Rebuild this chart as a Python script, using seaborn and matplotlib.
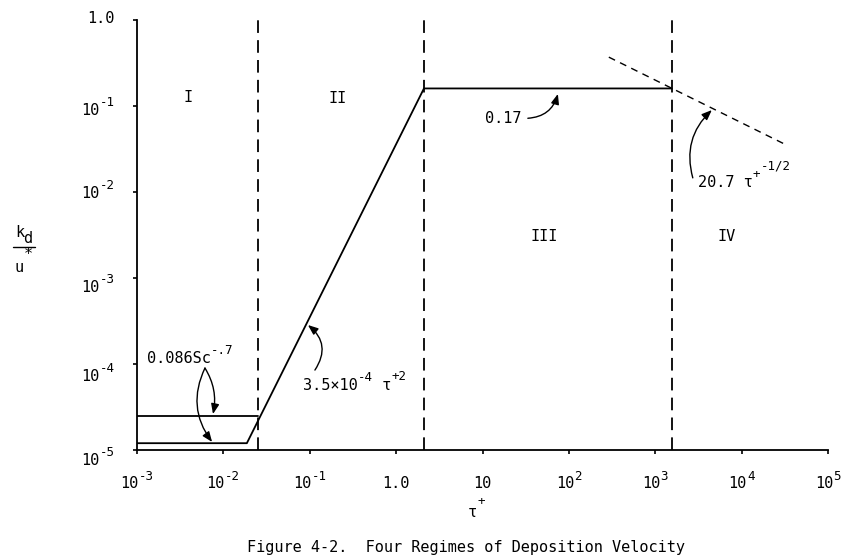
import matplotlib
matplotlib.use("Agg")
import matplotlib.pyplot as plt
import seaborn as sns
from matplotlib.lines import Line2D
from matplotlib.ticker import NullLocator

# ------------------------------------------------------------------
# values (tau+ on x, k_d/u* on y, both log)
# ------------------------------------------------------------------
curve_tau = [1e-3, 0.0187, 2.1, 1550.0]
curve_kd = [1.2e-5, 1.2e-5, 0.16, 0.16]

upper_tau = [1e-3, 0.025]
upper_kd = [2.5e-5, 2.5e-5]

regime_bounds = [0.025, 2.1, 1550.0]

slope_tau = [290.0, 33400.0]
slope_kd = [0.37, 0.035]

regime_names = ["I", "II", "III", "IV"]
regime_tau = [3.9e-3, 0.21, 52.0, 6750.0]
regime_kd = [0.124, 0.122, 3.0e-3, 3.0e-3]

x_ticks = [1e-3, 1e-2, 1e-1, 1.0, 10.0, 1e2, 1e3, 1e4, 1e5]
x_base = ["10", "10", "10", "1.0", "10", "10", "10", "10", "10"]
x_sup = ["-3", "-2", "-1", "", "", "2", "3", "4", "5"]

y_ticks = [1e-5, 1e-4, 1e-3, 1e-2, 1e-1, 1.0]
y_base = ["10", "10", "10", "10", "10", "1.0"]
y_sup = ["-5", "-4", "-3", "-2", "-1", ""]
y_drop = [15, 17, 14, 6, 9, 3]   # hand lettered labels sit a bit low

W, H = 858, 557
PX = 100 / 72          # pixels per point
FS, SFS = 11, 9        # base / superscript font sizes

sns.set_theme(style="ticks")
plt.rcParams["font.family"] = ["DejaVu Sans Mono", "DejaVu Sans"]
plt.rcParams["text.color"] = "black"

fig = plt.figure(figsize=(W / 100, H / 100), dpi=100)
ax = fig.add_subplot(111)
fig.subplots_adjust(left=137 / W, right=828 / W, bottom=1 - 450 / H, top=1 - 20 / H)


def seg_text(x, y, parts, xycoords, dx=0, dy=0, ha="left"):
    # lay out base + superscript pieces side by side (monospace font)
    widths = [len(s) * 0.602 * fs * PX for s, fs, _ in parts]
    total = sum(widths)
    start = dx - {"left": 0, "center": total / 2, "right": total}[ha]
    for (s, fs, rise), w in zip(parts, widths):
        if s:
            ax.annotate(s, (x, y), xycoords=xycoords, xytext=(start, dy + rise),
                        textcoords="offset pixels", ha="left", va="baseline",
                        fontsize=fs, color="black", annotation_clip=False)
        start += w


ax.set_xscale("log")
ax.set_yscale("log")

# main deposition curve
sns.lineplot(x=curve_tau, y=curve_kd, ax=ax, color="black", lw=1.3,
             sort=False, estimator=None)
sns.lineplot(x=upper_tau, y=upper_kd, ax=ax, color="black", lw=1.3,
             sort=False, estimator=None)
# regime IV asymptote
sns.lineplot(x=slope_tau, y=slope_kd, ax=ax, color="black", lw=1.0,
             sort=False, estimator=None, linestyle=(0, (5, 4)))

for b in regime_bounds:
    ax.axvline(b, color="black", lw=1.3, ls=(0, (7, 4)))

for name, t, k in zip(regime_names, regime_tau, regime_kd):
    ax.text(t, k, name, ha="center", va="center", fontsize=FS, color="black")

arrow = dict(arrowstyle="-|>,head_length=0.5,head_width=0.2", color="black",
             lw=1.0, shrinkA=0, shrinkB=0)

# 0.17
seg_text(17.5, 0.0634, [("0.17", FS, 0)], "data", ha="center")
ax.annotate("", xy=(74.6, 0.138), xytext=(33.5, 0.072),
            arrowprops=dict(arrow, connectionstyle="arc3,rad=0.35"))

# 20.7 tau^-1/2
seg_text(3110, 0.01143, [("20.7 τ", FS, 0), ("+", SFS, 9), ("-1/2", SFS, 18)], "data")
ax.annotate("", xy=(4520, 0.0897), xytext=(2720, 0.0146),
            arrowprops=dict(arrow, connectionstyle="arc3,rad=-0.3"))

# 3.5e-4 tau^2
seg_text(0.0834, 4.99e-5, [("3.5×10", FS, 0), ("-4", SFS, 9), (" τ", FS, 0), ("+2", SFS, 10)], "data")
ax.annotate("", xy=(0.0953, 2.84e-4), xytext=(0.1148, 8.5e-5),
            arrowprops=dict(arrow, connectionstyle="arc3,rad=0.45"))

# 0.086 Sc^-.7
seg_text(1.305e-3, 1.027e-4, [("0.086Sc", FS, 0), ("-.7", SFS, 9)], "data")
ax.annotate("", xy=(7.58e-3, 2.62e-5), xytext=(6.12e-3, 8.97e-5),
            arrowprops=dict(arrow, connectionstyle="arc3,rad=-0.2"))
ax.annotate("", xy=(7.4e-3, 1.24e-5), xytext=(6.12e-3, 8.97e-5),
            arrowprops=dict(arrow, connectionstyle="arc3,rad=0.3"))

ax.set_xlim(1e-3, 1e5)
ax.set_ylim(1e-5, 1.0)
ax.set_xticks(x_ticks, [""] * len(x_ticks))
ax.set_yticks(y_ticks, [""] * len(y_ticks))
ax.xaxis.set_minor_locator(NullLocator())
ax.yaxis.set_minor_locator(NullLocator())
ax.tick_params(axis="both", direction="out", length=3, width=1.2, colors="black")
sns.despine(ax=ax)
for s in ["left", "bottom"]:
    ax.spines[s].set_linewidth(1.3)
    ax.spines[s].set_color("black")
ax.set_xlabel("")
ax.set_ylabel("")

# tick labels with full-size superscripts
for t, b, s in zip(x_ticks, x_base, x_sup):
    seg_text(t, 0, [(b, FS, 0), (s, SFS, 8)], ("data", "axes fraction"),
             dy=-38, ha="center")
for t, b, s, d in zip(y_ticks, y_base, y_sup, y_drop):
    seg_text(0, t, [(b, FS, 0), (s, SFS, 9)], ("axes fraction", "data"),
             dx=-22, dy=-d, ha="right")

# axis titles
seg_text(468, H - 517, [("τ", FS, 0), ("+", SFS, 12)], "figure pixels")
seg_text(15, H - 237, [("k", FS, 0)], "figure pixels")
seg_text(23, H - 243, [("d", FS, 0)], "figure pixels")
seg_text(15, H - 272, [("u", FS, 0)], "figure pixels")
seg_text(24, H - 259, [("*", FS, 0)], "figure pixels")
fig.add_artist(Line2D([13 / W, 35 / W], [1 - 247 / H, 1 - 247 / H],
                      color="black", lw=1.0))

fig.text(466 / W, 1 - 552 / H, "Figure 4-2.  Four Regimes of Deposition Velocity",
         ha="center", va="baseline", fontsize=FS, color="black")

fig.savefig("out.png", dpi=100, facecolor="white")
